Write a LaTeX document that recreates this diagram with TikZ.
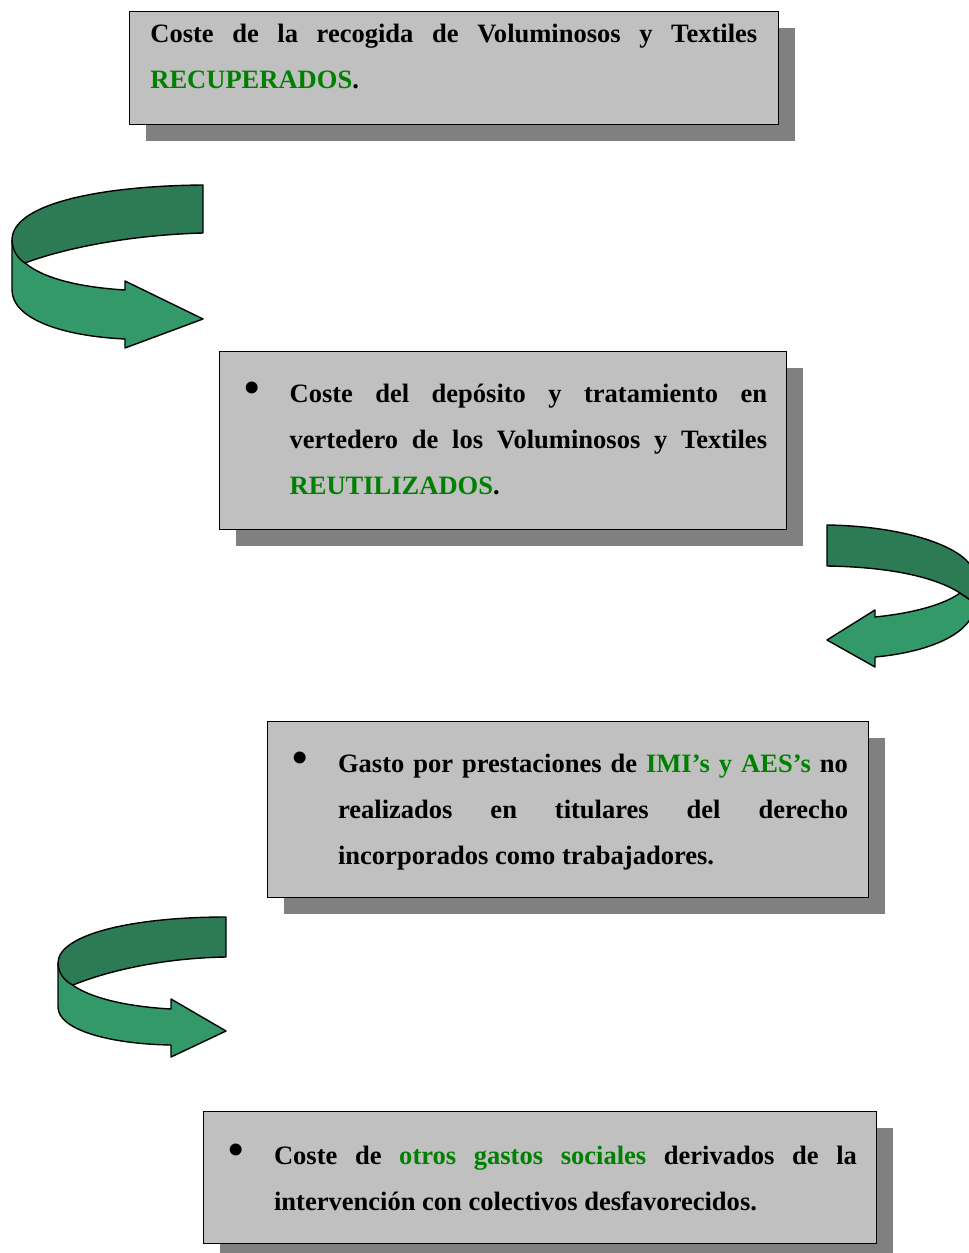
\documentclass[tikz,border=0pt]{standalone}
\usepackage{fontspec}
\setmainfont{Liberation Serif}
\usetikzlibrary{shadows}

\definecolor{grisCuadro}{RGB}{192,192,192}
\definecolor{grisSombra}{RGB}{128,128,128}
\definecolor{verdeTexto}{RGB}{0,128,0}
\definecolor{verdeOscuro}{RGB}{44,123,85}
\definecolor{verdeClaro}{RGB}{52,153,104}

\newcommand{\verde}[1]{\textcolor{verdeTexto}{#1}}
\newcommand{\vineta}{\llap{{\fontsize{25}{25}\selectfont\textbullet}\hspace{16.9pt}}}

\tikzset{
  cuadro/.style={draw=black, line width=0.8pt, fill=grisCuadro, anchor=north west,
    drop shadow={shadow xshift=0.32cm, shadow yshift=-0.32cm, fill=grisSombra, opacity=1}},
  texto/.style={anchor=north west, inner sep=0pt, align=justify,
    font=\fontsize{15.1}{26.2}\selectfont\bfseries},
  cinta oscura/.style={fill=verdeOscuro, draw=black, line width=0.8pt, line join=round},
  cinta clara/.style={fill=verdeClaro, draw=black, line width=0.8pt, line join=round}
}

\begin{document}
\begin{tikzpicture}[x=0.02cm, y=-0.02cm]
  \useasboundingbox (0,0) rectangle (969,1253);
  \clip (0,0) rectangle (969,1253);

  \node[cuadro, minimum width=12.98cm, minimum height=2.26cm] (cuadro1) at (129,11) {};
  \node[texto, text width=12.14cm] (texto1) at (150,10.3)
    {\strut Coste de la recogida de Voluminosos y Textiles\linebreak \verde{RECUPERADOS}.};

  \draw[cinta clara] (12,240) -- (12,290) .. controls (12,318) and (60,336) .. (125,339)
    -- (125,348) -- (203,319) -- (125,281) -- (125,290)
    .. controls (60,286) and (15,270) .. (12,240) -- cycle;
  \draw[cinta oscura] (203,185) .. controls (95,186) and (12,205) .. (12,240)
    .. controls (12.5,250) and (17,258) .. (25,263)
    .. controls (65,248) and (130,235) .. (203,233) -- cycle;

  \node[cuadro, minimum width=11.34cm, minimum height=3.56cm] (cuadro2) at (219,351) {};
  \node[texto, text width=9.55cm] (texto2) at (289.3,370)
    {\vineta\strut Coste del depósito y tratamiento en\linebreak
     vertedero de los Voluminosos y Textiles\linebreak \verde{REUTILIZADOS}.};

  \draw[cinta clara] (875,617) .. controls (915,613) and (945,604) .. (960,593) -- (975,603)
    .. controls (975,633) and (930,652) .. (875,657)
    -- (875,667) -- (827,640) -- (875,610) -- cycle;
  \draw[cinta oscura] (827,525) .. controls (905,526) and (975,548) .. (975,578) -- (975,603)
    -- (960,593) .. controls (935,577) and (890,567) .. (827,566) -- cycle;

  \node[cuadro, minimum width=12.02cm, minimum height=3.52cm] (cuadro3) at (267,721) {};
  \node[texto, text width=10.2cm] (texto3) at (337.7,740)
    {\vineta\strut Gasto por prestaciones de \verde{IMI’s y AES’s} no\linebreak
     realizados en titulares del derecho\linebreak incorporados como trabajadores.};

  \draw[cinta clara] (58,963) -- (58,1007) .. controls (58,1030) and (110,1044) .. (171,1045)
    -- (171,1057) -- (226,1031) -- (171,999) -- (171,1009)
    .. controls (115,1006) and (60,992) .. (58,963) -- cycle;
  \draw[cinta oscura] (226,917) .. controls (130,917) and (58,935) .. (58,963)
    .. controls (58.5,973) and (64,981) .. (73,985)
    .. controls (110,970) and (165,958) .. (226,957) -- cycle;

  \node[cuadro, minimum width=13.46cm, minimum height=2.64cm] (cuadro4) at (203,1111) {};
  \node[texto, text width=11.66cm] (texto4) at (273.7,1132)
    {\vineta\strut Coste de \verde{otros gastos sociales} derivados de la\linebreak
     intervención con colectivos desfavorecidos.};
\end{tikzpicture}
\end{document}
